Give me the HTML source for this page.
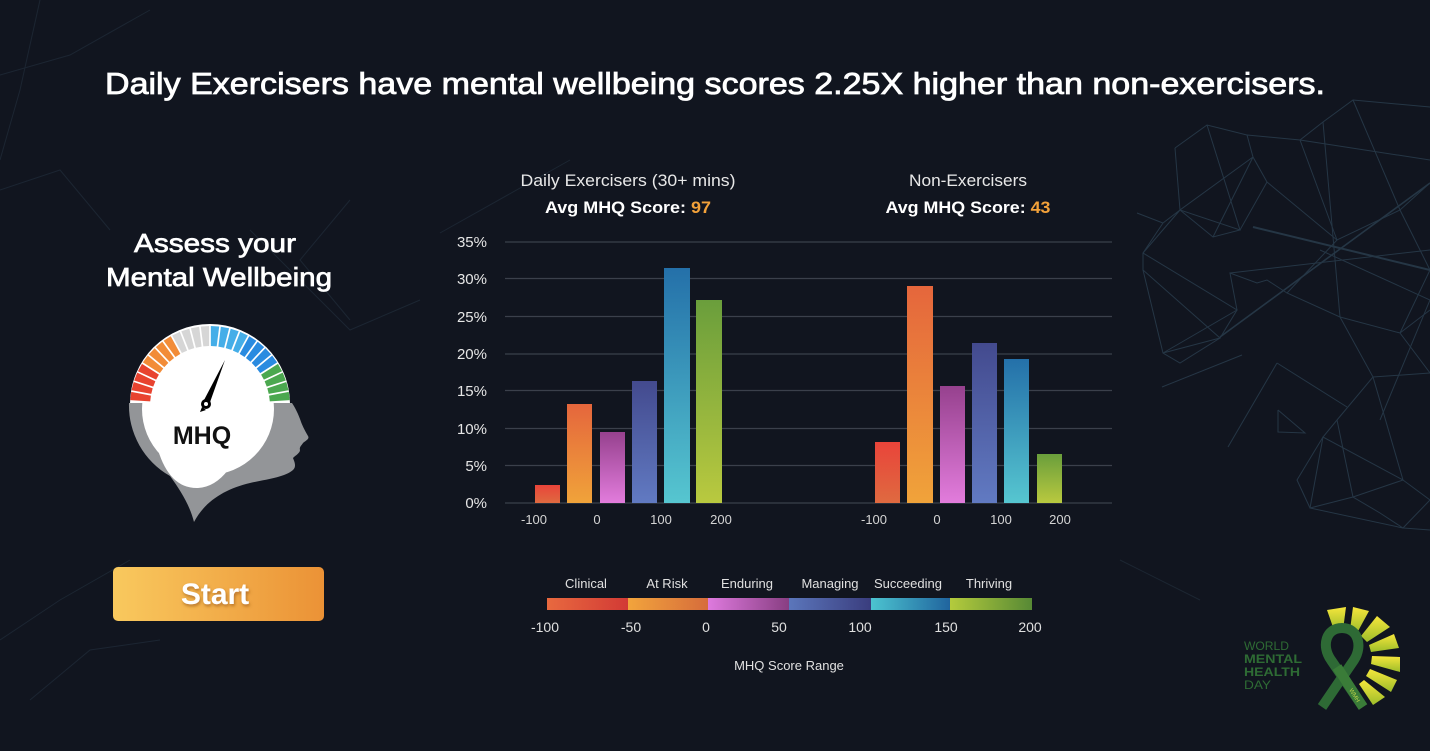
<!DOCTYPE html>
<html><head><meta charset="utf-8"><style>
html,body{margin:0;padding:0;background:#11151f;}
svg{display:block;}
text{font-family:"Liberation Sans",Arial,sans-serif;}
</style></head><body>
<svg width="1430" height="751" viewBox="0 0 1430 751" xmlns="http://www.w3.org/2000/svg">
<defs>
<linearGradient id="b1" x1="0" y1="0" x2="0" y2="1"><stop offset="0" stop-color="#e9443a"/><stop offset="1" stop-color="#df6a40"/></linearGradient>
<linearGradient id="b2" x1="0" y1="0" x2="0" y2="1"><stop offset="0" stop-color="#e5663c"/><stop offset="1" stop-color="#f0a33a"/></linearGradient>
<linearGradient id="b3" x1="0" y1="0" x2="0" y2="1"><stop offset="0" stop-color="#96418e"/><stop offset="1" stop-color="#e27cdc"/></linearGradient>
<linearGradient id="b4" x1="0" y1="0" x2="0" y2="1"><stop offset="0" stop-color="#434a8e"/><stop offset="1" stop-color="#617ac2"/></linearGradient>
<linearGradient id="b5" x1="0" y1="0" x2="0" y2="1"><stop offset="0" stop-color="#2470a9"/><stop offset="1" stop-color="#56c6d0"/></linearGradient>
<linearGradient id="b6" x1="0" y1="0" x2="0" y2="1"><stop offset="0" stop-color="#6a9e3c"/><stop offset="1" stop-color="#b9c93f"/></linearGradient>
<linearGradient id="l1" x1="0" y1="0" x2="1" y2="0"><stop offset="0" stop-color="#e8693f"/><stop offset="1" stop-color="#d23a35"/></linearGradient>
<linearGradient id="l2" x1="0" y1="0" x2="1" y2="0"><stop offset="0" stop-color="#f2a43c"/><stop offset="1" stop-color="#d66c3b"/></linearGradient>
<linearGradient id="l3" x1="0" y1="0" x2="1" y2="0"><stop offset="0" stop-color="#de7ade"/><stop offset="1" stop-color="#883e82"/></linearGradient>
<linearGradient id="l4" x1="0" y1="0" x2="1" y2="0"><stop offset="0" stop-color="#5b76bb"/><stop offset="1" stop-color="#3a3d7e"/></linearGradient>
<linearGradient id="l5" x1="0" y1="0" x2="1" y2="0"><stop offset="0" stop-color="#4cc4d0"/><stop offset="1" stop-color="#20649e"/></linearGradient>
<linearGradient id="l6" x1="0" y1="0" x2="1" y2="0"><stop offset="0" stop-color="#b4cb3c"/><stop offset="1" stop-color="#578935"/></linearGradient>
<linearGradient id="btn" x1="0" y1="0" x2="1" y2="0"><stop offset="0" stop-color="#f9c95e"/><stop offset="1" stop-color="#eb9236"/></linearGradient>
<linearGradient id="ray" x1="0" y1="0" x2="0" y2="1"><stop offset="0" stop-color="#f6e63c"/><stop offset="1" stop-color="#9dbd2a"/></linearGradient>
<filter id="sh" x="-20%" y="-20%" width="140%" height="140%"><feDropShadow dx="1" dy="2" stdDeviation="1.5" flood-color="#8a4a10" flood-opacity="0.6"/></filter>
<path id="seg" d="M205.8,326.1 L214.2,326.1 L212.9,346.1 L207.1,346.1 Z"/>
</defs>

<!-- background network -->
<g stroke="#283a4a" stroke-width="1" fill="none" opacity="0.9">
<polyline points="1175,148 1207,125 1247,135 1253,157 1267,182 1240,230 1213,237 1180,210 1175,148"/>
<polyline points="1207,125 1240,230 1180,210 1253,157 1213,237"/>
<polyline points="1137,213 1163,223 1143,253 1143,270 1163,353 1180,363 1220,338 1237,310 1230,273 1257,283 1267,280 1287,293"/>
<polyline points="1163,223 1180,210 1143,253 1237,310 1163,353 1220,338 1143,270"/>
<polyline points="1247,135 1300,140 1323,122 1353,100 1430,107"/>
<polyline points="1300,140 1337,240 1400,210 1430,183"/>
<polyline points="1323,122 1340,317 1400,333 1430,310"/>
<polyline points="1353,100 1400,210 1430,270 1400,333 1430,373"/>
<polyline points="1267,182 1337,240 1287,293 1340,317 1373,377 1430,373"/>
<polyline points="1373,377 1337,420 1323,437 1297,480 1310,508 1353,497 1403,480 1430,500 1403,528 1430,530"/>
<polyline points="1337,420 1353,497 1380,513 1403,528 1310,508 1323,437 1403,480 1373,377"/>
<polyline points="1162,387 1242,355"/>
<polyline points="1277,363 1228,447"/>
<polyline points="1277,363 1347,407"/>
<polyline points="1278,410 1305,433 1278,432 1278,410"/>
<polyline points="1253,227 1430,270" stroke-width="2"/>
<polyline points="1220,337 1430,183" stroke-width="1.6"/>
<polyline points="1230,273 1430,250"/>
<polyline points="1300,140 1430,160"/>
<polyline points="1320,250 1430,300 1380,420"/>
</g>
<g stroke="#1f2a37" stroke-width="1" fill="none" opacity="0.8">
<polyline points="0,75 70,55 150,10"/>
<polyline points="40,0 20,90 0,160"/>
<polyline points="0,190 60,170 110,230"/>
<polyline points="440,233 570,160"/>
<polyline points="250,230 350,330 420,300"/>
<polyline points="0,640 60,600 130,560"/>
<polyline points="30,700 90,650 160,640"/>
<polyline points="350,200 300,260 350,320"/>
<polyline points="1120,560 1200,600"/>
</g>

<!-- Title -->
<text x="105" y="94" font-size="31" fill="#ffffff" stroke="#ffffff" stroke-width="0.8" textLength="1220" lengthAdjust="spacingAndGlyphs">Daily Exercisers have mental wellbeing scores 2.25X higher than non-exercisers.</text>

<!-- Left panel -->
<text x="215" y="252" font-size="26" fill="#ffffff" stroke="#ffffff" stroke-width="0.7" text-anchor="middle" textLength="162" lengthAdjust="spacingAndGlyphs">Assess your</text>
<text x="219" y="286" font-size="26" fill="#ffffff" stroke="#ffffff" stroke-width="0.7" text-anchor="middle" textLength="226" lengthAdjust="spacingAndGlyphs">Mental Wellbeing</text>

<!-- head / gauge -->
<path d="M130,404 A80,80 0 0 1 290,404 Z" fill="#ffffff"/>
<path d="M129,403 A81,81 0 0 0 170,476 C181,491 190,506 194,522 C205,501 225,489 250,483 C268,479 285,477 293,470 C297,466 294,461 293,458 C296,455 300,453 300,450 C299,447 302,445 303,443 C305,441 310,439 308,436 C304,429 302,425 300,419 C297,411 294,406 292,403 Z" fill="#939598"/>
<circle cx="208" cy="409" r="66" fill="#ffffff"/>
<path d="M158,450 Q170,489 198,488 Q215,487 228,470 Z" fill="#ffffff"/>
<g fill="#e8432f">
<use href="#seg" transform="rotate(-82.8 210 406)"/>
<use href="#seg" transform="rotate(-75.6 210 406)"/>
<use href="#seg" transform="rotate(-68.4 210 406)"/>
<use href="#seg" transform="rotate(-61.2 210 406)"/>
</g>
<g fill="#f28c38">
<use href="#seg" transform="rotate(-54 210 406)"/>
<use href="#seg" transform="rotate(-46.8 210 406)"/>
<use href="#seg" transform="rotate(-39.6 210 406)"/>
<use href="#seg" transform="rotate(-32.4 210 406)"/>
</g>
<g fill="#d6d6d6">
<use href="#seg" transform="rotate(-25.2 210 406)"/>
<use href="#seg" transform="rotate(-18 210 406)"/>
<use href="#seg" transform="rotate(-10.8 210 406)"/>
<use href="#seg" transform="rotate(-3.6 210 406)"/>
</g>
<g fill="#45aee8">
<use href="#seg" transform="rotate(3.6 210 406)"/>
<use href="#seg" transform="rotate(10.8 210 406)"/>
<use href="#seg" transform="rotate(18 210 406)"/>
<use href="#seg" transform="rotate(25.2 210 406)"/>
</g>
<g fill="#2a8be0">
<use href="#seg" transform="rotate(32.4 210 406)"/>
<use href="#seg" transform="rotate(39.6 210 406)"/>
<use href="#seg" transform="rotate(46.8 210 406)"/>
<use href="#seg" transform="rotate(54 210 406)"/>
</g>
<g fill="#4ba84f">
<use href="#seg" transform="rotate(61.2 210 406)"/>
<use href="#seg" transform="rotate(68.4 210 406)"/>
<use href="#seg" transform="rotate(75.6 210 406)"/>
<use href="#seg" transform="rotate(82.8 210 406)"/>
</g>
<path d="M203,402 L225,360 L209,405 Z" fill="#000000"/>
<circle cx="206" cy="404" r="5" fill="#000000"/>
<circle cx="206" cy="404" r="2" fill="#ffffff"/>
<path d="M202,407 L200,412 L206,410 Z" fill="#000000"/>
<text x="202" y="444" font-size="25" font-weight="bold" fill="#111111" text-anchor="middle">MHQ</text>

<!-- Start button -->
<rect x="113" y="567" width="211" height="54" rx="5" fill="url(#btn)"/>
<text x="215" y="604" font-size="30" font-weight="bold" fill="#ffffff" text-anchor="middle" filter="url(#sh)">Start</text>

<!-- chart headings -->
<text x="628" y="186" font-size="17" fill="#e8e8e8" text-anchor="middle" textLength="215" lengthAdjust="spacingAndGlyphs">Daily Exercisers (30+ mins)</text>
<text x="628" y="213" font-size="17" font-weight="bold" fill="#ffffff" text-anchor="middle" textLength="166" lengthAdjust="spacingAndGlyphs">Avg MHQ Score: <tspan fill="#f2a13a">97</tspan></text>
<text x="968" y="186" font-size="17" fill="#e8e8e8" text-anchor="middle" textLength="118" lengthAdjust="spacingAndGlyphs">Non-Exercisers</text>
<text x="968" y="213" font-size="17" font-weight="bold" fill="#ffffff" text-anchor="middle" textLength="165" lengthAdjust="spacingAndGlyphs">Avg MHQ Score: <tspan fill="#f2a13a">43</tspan></text>

<!-- gridlines -->
<g stroke="#3b404b" stroke-width="1.3">
<line x1="505" y1="242" x2="1112" y2="242"/>
<line x1="505" y1="278.5" x2="1112" y2="278.5"/>
<line x1="505" y1="316.5" x2="1112" y2="316.5"/>
<line x1="505" y1="354" x2="1112" y2="354"/>
<line x1="505" y1="390.5" x2="1112" y2="390.5"/>
<line x1="505" y1="428.5" x2="1112" y2="428.5"/>
<line x1="505" y1="465.5" x2="1112" y2="465.5"/>
<line x1="505" y1="503" x2="1112" y2="503"/>
</g>
<g font-size="15" fill="#e6e6e6" text-anchor="end">
<text x="487" y="247">35%</text>
<text x="487" y="284">30%</text>
<text x="487" y="322">25%</text>
<text x="487" y="359">20%</text>
<text x="487" y="396">15%</text>
<text x="487" y="434">10%</text>
<text x="487" y="471">5%</text>
<text x="487" y="508">0%</text>
</g>

<!-- bars daily -->
<rect x="535" y="485" width="25" height="18" fill="url(#b1)"/>
<rect x="567" y="404" width="25" height="99" fill="url(#b2)"/>
<rect x="600" y="432" width="25" height="71" fill="url(#b3)"/>
<rect x="632" y="381" width="25" height="122" fill="url(#b4)"/>
<rect x="664" y="268" width="26" height="235" fill="url(#b5)"/>
<rect x="696" y="300" width="26" height="203" fill="url(#b6)"/>
<!-- bars non -->
<rect x="875" y="442" width="25" height="61" fill="url(#b1)"/>
<rect x="907" y="286" width="26" height="217" fill="url(#b2)"/>
<rect x="940" y="386" width="25" height="117" fill="url(#b3)"/>
<rect x="972" y="343" width="25" height="160" fill="url(#b4)"/>
<rect x="1004" y="359" width="25" height="144" fill="url(#b5)"/>
<rect x="1037" y="454" width="25" height="49" fill="url(#b6)"/>

<g font-size="13" fill="#d4d4d4" text-anchor="middle">
<text x="534" y="524">-100</text>
<text x="597" y="524">0</text>
<text x="661" y="524">100</text>
<text x="721" y="524">200</text>
<text x="874" y="524">-100</text>
<text x="937" y="524">0</text>
<text x="1001" y="524">100</text>
<text x="1060" y="524">200</text>
</g>

<!-- legend -->
<g font-size="13" fill="#e0e0e0" text-anchor="middle">
<text x="586" y="588">Clinical</text>
<text x="667" y="588">At Risk</text>
<text x="747" y="588">Enduring</text>
<text x="830" y="588">Managing</text>
<text x="908" y="588">Succeeding</text>
<text x="989" y="588">Thriving</text>
</g>
<rect x="547" y="598" width="81" height="12" fill="url(#l1)"/>
<rect x="628" y="598" width="80" height="12" fill="url(#l2)"/>
<rect x="708" y="598" width="81" height="12" fill="url(#l3)"/>
<rect x="789" y="598" width="82" height="12" fill="url(#l4)"/>
<rect x="871" y="598" width="79" height="12" fill="url(#l5)"/>
<rect x="950" y="598" width="82" height="12" fill="url(#l6)"/>
<g font-size="14" fill="#e0e0e0" text-anchor="middle">
<text x="545" y="632">-100</text>
<text x="631" y="632">-50</text>
<text x="706" y="632">0</text>
<text x="779" y="632">50</text>
<text x="860" y="632">100</text>
<text x="946" y="632">150</text>
<text x="1030" y="632">200</text>
</g>
<text x="789" y="670" font-size="13" fill="#e0e0e0" text-anchor="middle">MHQ Score Range</text>

<!-- WMHD logo -->
<g fill="url(#ray)">
<polygon points="1334,630 1327,610 1346,607 1343,630" />
<polygon points="1350,630 1353,607 1369,611 1357,633" />
<polygon points="1361,636 1377,616 1390,627 1367,642" />
<polygon points="1369,645 1394,634 1399,648 1371,652" />
<polygon points="1372,656 1400,657 1400,672 1371,664" />
<polygon points="1370,669 1397,680 1391,692 1366,676" />
<polygon points="1364,680 1385,697 1373,705 1359,684" />
</g>
<path d="M1322,707 L1354,660 C1363,646 1358,628 1342,628 C1326,628 1321,646 1331,660 L1363,707" fill="none" stroke="#2e6a35" stroke-width="10" stroke-linejoin="round"/>
<path d="M1337,667 L1363,707" fill="none" stroke="#3a7c38" stroke-width="10"/>
<text x="1349" y="690" font-size="6" fill="#b9d14a" transform="rotate(58 1349 690)">WMH</text>
<g fill="#2e6b34" font-size="12">
<text x="1244" y="650" textLength="45" lengthAdjust="spacingAndGlyphs">WORLD</text>
<text x="1244" y="663" font-weight="bold" textLength="58" lengthAdjust="spacingAndGlyphs">MENTAL</text>
<text x="1244" y="676" font-weight="bold" textLength="56" lengthAdjust="spacingAndGlyphs">HEALTH</text>
<text x="1244" y="689" textLength="27" lengthAdjust="spacingAndGlyphs">DAY</text>
</g>
</svg>
</body></html>
